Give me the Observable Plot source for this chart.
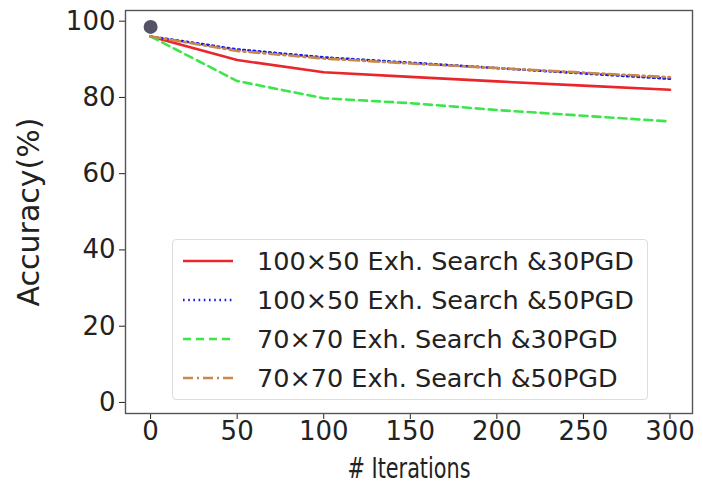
<!DOCTYPE html>
<html><head><meta charset="utf-8">
<script src="https://cdn.jsdelivr.net/npm/d3@7"></script>
<script src="https://cdn.jsdelivr.net/npm/@observablehq/plot@0.6"></script>
<style>
body{margin:0;background:#fff;font-family:"DejaVu Sans",sans-serif;}
#wrap{position:relative;width:703px;height:490px;}
#legend{position:absolute;left:172px;top:239px;width:476px;height:161px;border:1px solid #ddd;border-radius:4px;background:rgba(255,255,255,0.85);box-sizing:border-box;padding-top:1px;}
.row{display:flex;align-items:center;height:39px;font-size:25.5px;color:#222;white-space:nowrap;}
.row svg{margin-left:9px;margin-right:23px;}
</style></head>
<body><div id="wrap"></div>
<script>
const iterations = [0, 50, 100, 150, 200, 250, 300];
const s1 = [96.0, 89.8, 86.6, 85.4, 84.2, 83.1, 82.0];   // 100x50 &30PGD
const s2 = [96.0, 92.6, 90.5, 89.1, 87.7, 86.3, 84.9];   // 100x50 &50PGD
const s3 = [96.0, 84.3, 79.8, 78.5, 76.7, 75.2, 73.7];   // 70x70 &30PGD
const s4 = [96.0, 92.2, 90.2, 88.9, 87.7, 86.5, 85.3];   // 70x70 &50PGD
const seriesNames = ["100×50 Exh. Search &30PGD","100×50 Exh. Search &50PGD","70×70 Exh. Search &30PGD","70×70 Exh. Search &50PGD"];
const seriesColors = ["#e8262b","#1a1ae6","#3ae64a","#c8884a"];
const seriesDash = [null,"1.6,3.6","8,5","10,4,2,4"];
const cleanPoint = [{x:0, y:98.5}];
const xTicks = [0,50,100,150,200,250,300];
const yTicks = [0,20,40,60,80,100];

const allSeries = [s1,s2,s3,s4];
const marks = [];
allSeries.forEach((s,i)=>{
  const data = iterations.map((x,j)=>({x, y:s[j]}));
  marks.push(Plot.line(data,{x:"x",y:"y",stroke:seriesColors[i],strokeWidth:2.6,strokeDasharray:seriesDash[i]||undefined}));
});
marks.push(Plot.dot(cleanPoint,{x:"x",y:"y",r:7,fill:"#555166",stroke:"none"}));
marks.push(Plot.frame({stroke:"#555",strokeWidth:1.4}));

const chart = Plot.plot({
  width:703, height:490,
  marginLeft:125, marginRight:11, marginTop:10, marginBottom:77,
  style:{fontFamily:"DejaVu Sans, sans-serif", fontSize:"26px", color:"#222", background:"#fff"},
  x:{domain:[-14.5,313], ticks:xTicks, tickSize:6, tickPadding:2, label:"# Iterations", labelAnchor:"center", labelOffset:64, labelArrow:"none"},
  y:{domain:[-2.9,102.8], ticks:yTicks, tickSize:6, tickPadding:4, label:"Accuracy(%)", labelAnchor:"center", labelOffset:108, labelArrow:"none"},
  marks
});
document.getElementById("wrap").appendChild(chart);
const xl = chart.querySelector('g[aria-label="x-axis label"] text');
if (xl) { xl.style.fontSize="29px"; xl.setAttribute("textLength","123"); xl.setAttribute("lengthAdjust","spacingAndGlyphs"); }
const yl = chart.querySelector('g[aria-label="y-axis label"] text');
if (yl) { yl.style.fontSize="30px"; }

const legend = document.createElement("div");
legend.id = "legend";
seriesNames.forEach((n,i)=>{
  const row = document.createElement("div");
  row.className="row";
  const ns="http://www.w3.org/2000/svg";
  const svg=document.createElementNS(ns,"svg");
  svg.setAttribute("width","52");svg.setAttribute("height","10");
  const ln=document.createElementNS(ns,"line");
  ln.setAttribute("x1","1");ln.setAttribute("x2","51");ln.setAttribute("y1","5");ln.setAttribute("y2","5");
  ln.setAttribute("stroke",seriesColors[i]);ln.setAttribute("stroke-width","2.6");
  if(seriesDash[i]) ln.setAttribute("stroke-dasharray",seriesDash[i]);
  svg.appendChild(ln);
  row.appendChild(svg);
  const sp=document.createElement("span");sp.textContent=n;row.appendChild(sp);
  legend.appendChild(row);
});
document.getElementById("wrap").appendChild(legend);
</script></body></html>
